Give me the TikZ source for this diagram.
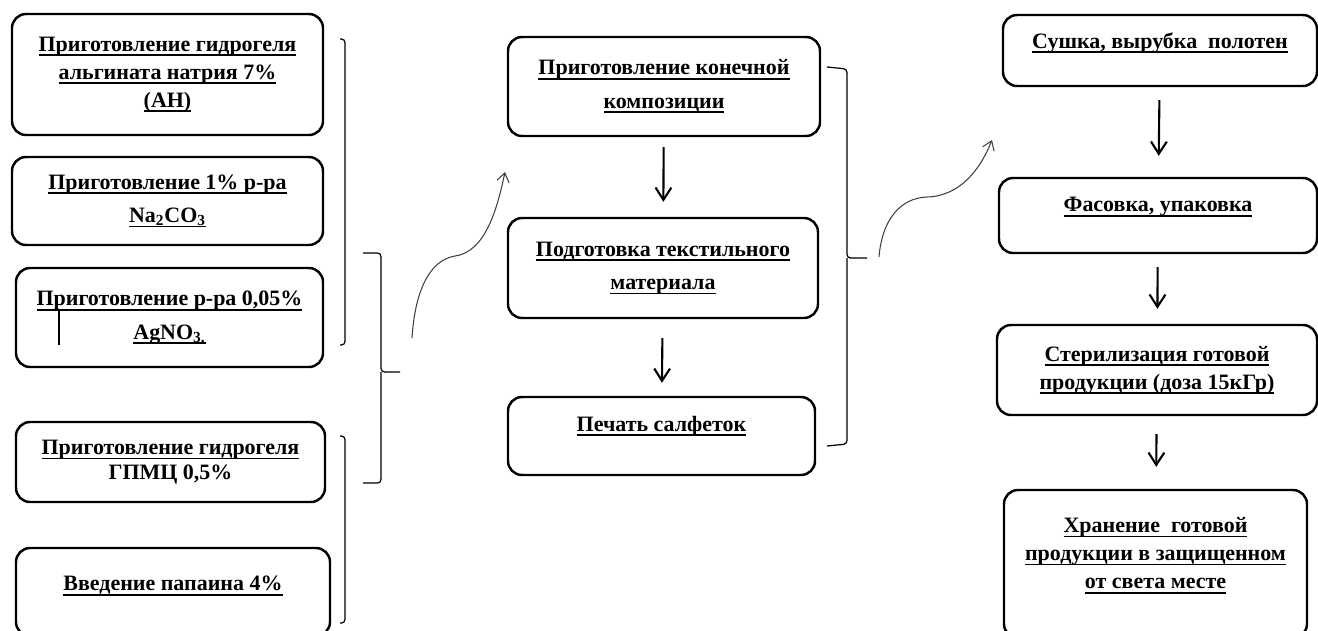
\documentclass[tikz,border=0pt]{standalone}
\usepackage{fontspec}
\setmainfont{Liberation Serif}
\usetikzlibrary{arrows.meta}
\newsavebox\undlbox
\newcommand\undl[1]{\sbox\undlbox{#1}\rlap{\rule[-0.22em]{\wd\undlbox}{0.08em}}\usebox\undlbox}
\tikzset{
    stage/.style={draw, line width=1.4pt, rounded corners=8pt, align=center, inner sep=0pt,
        font=\fontsize{12.5}{16}\selectfont\bfseries},
    boxsize/.style 2 args={minimum width=#1*0.02cm, minimum height=#2*0.02cm},
    flow/.style={-{Straight Barb[length=7pt,width=9pt]}, line width=1.2pt},
    curvy/.style={-{Straight Barb[length=5pt,width=7pt]}, line width=0.6pt, black!75},
    brk/.style={line width=0.7pt, rounded corners=2pt}
}
\begin{document}
\begin{tikzpicture}[x=0.02cm,y=-0.02cm]
    \useasboundingbox (0,0) rectangle (1318,630);
    % left column
    \node[stage, boxsize={311}{121}] (alg) at (167.5,74.5)
        {\undl{Приготовление гидрогеля}\\ \undl{альгината натрия 7\%}\\ \undl{(АН)}};
    \node[stage, boxsize={311}{88}] (soda) at (167.5,201)
        {\undl{Приготовление 1\% р-ра}\\[3pt] \undl{Na\textsubscript{2}CO\textsubscript{3}}};
    \node[stage, boxsize={307}{99}] (silver) at (169.5,317.5)
        {\undl{Приготовление р-ра 0,05\%}\\[3pt] \undl{AgNO\textsubscript{3.}}};
    \draw[line width=0.8pt] (59,310) -- (59,345);
    \node[stage, boxsize={309}{80}] (hpmc) at (170.5,462)
        {\undl{Приготовление гидрогеля}\\[-2pt] ГПМЦ 0,5\%};
    \node[stage, boxsize={314}{88}, text depth=9.7pt] (papain) at (173,592)
        {\undl{Введение папаина 4\%}};
    % brackets of the left column
    \draw[brk] (340,39) -- (345,39) -- (345,345) -- (340,345);
    \draw[brk] (340,436) -- (345,436) -- (345,623) -- (340,623);
    \draw[brk] (363,253) -- (381,253) -- (381,372) -- (400,372);
    \draw[brk] (363,483) -- (381,483) -- (381,372);
    \coordinate (from1) at (412,338);
    \coordinate (to1) at (505,172);
    \draw[curvy] (from1) .. controls (415,290) and (430,260) .. (455,256)
        .. controls (485,252) and (497,210) .. (to1);
    % middle column
    \node[stage, boxsize={312}{99}] (final) at (664,86.5)
        {\undl{Приготовление конечной}\\[3pt] \undl{композиции}};
    \node[stage, boxsize={310}{100}] (textile) at (663,268)
        {\undl{Подготовка текстильного}\\[3pt] \undl{материала}};
    \node[stage, boxsize={307}{78}, text depth=14pt] (print) at (661.5,436)
        {\undl{Печать салфеток}};
    \draw[flow, shorten <=0.2cm, shorten >=0.3cm] (final) -- (textile);
    \draw[flow, shorten <=0.38cm, shorten >=0.26cm] (textile) -- (print);
    \draw[brk] (827,67) -- (847,69) -- (847,258) -- (867,258);
    \draw[brk] (827,446) -- (847,444) -- (847,258);
    \coordinate (from2) at (879,257);
    \coordinate (to2) at (992,140);
    \draw[curvy] (from2) .. controls (882,220) and (900,198) .. (927,197)
        .. controls (960,196) and (980,170) .. (to2);
    % right column
    \node[stage, boxsize={314}{71}, text depth=11.5pt] (dry) at (1160,50.5)
        {\undl{Сушка, вырубка\ \ полотен}};
    \node[stage, boxsize={318}{75}, text depth=12.5pt] (pack) at (1158,215.5)
        {\undl{Фасовка, упаковка}};
    \node[stage, boxsize={320}{90}] (steril) at (1157,370)
        {\undl{Стерилизация готовой}\\ \undl{продукции (доза 15кГр)}};
    \node[stage, boxsize={303}{148}, text depth=12.5pt] (store) at (1155.5,564)
        {\undl{Хранение\ \ готовой}\\ \undl{продукции в защищенном}\\ \undl{от света месте}};
    \draw[flow, shorten <=0.26cm, shorten >=0.42cm] (dry) -- (pack);
    \draw[flow, shorten <=0.26cm, shorten >=0.3cm] (pack) -- (steril);
    \draw[flow, shorten <=0.36cm, shorten >=0.44cm] (steril) -- (store);
\end{tikzpicture}
\end{document}
